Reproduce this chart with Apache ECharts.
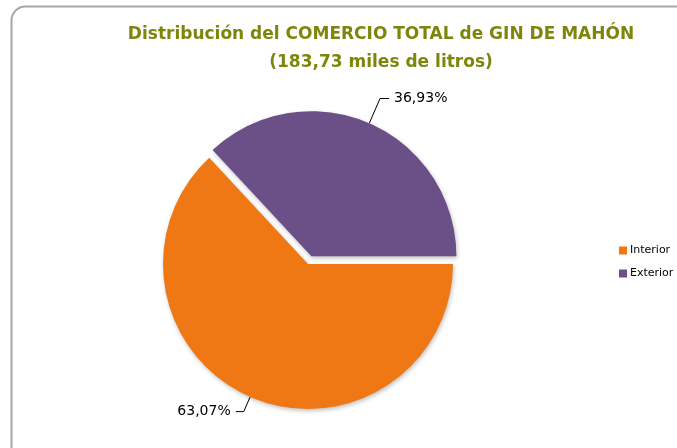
<!DOCTYPE html>
<html>
<head>
<meta charset="utf-8">
<script src="https://cdn.jsdelivr.net/npm/echarts@6/dist/echarts.min.js"></script>
<style>
  html, body { margin: 0; padding: 0; background: #fff; }
  #chart { width: 677px; height: 448px; }
</style>
</head>
<body>
<div id="chart"></div>
<script>
// datos (miles de litros)
const categories = ['Interior', 'Exterior']
const values = [115.88, 67.85]
const colors = ['#F07814', '#6A5087']
const titleLines = ['Distribución del COMERCIO TOTAL de GIN DE MAHÓN', '(183,73 miles de litros)']

const total = values.reduce((a, b) => a + b, 0)
const fmtPct = (v) => (v / total * 100).toFixed(2).replace('.', ',') + '%'

// largo de las líneas de etiqueta por porción
const lineLen = [[16, 8], [27, 9]]

const chart = echarts.init(document.getElementById('chart'))

const option = {
  backgroundColor: '#fff',
  animation: false,
  title: {
    text: titleLines.join('\n'),
    left: 376,
    top: 16,
    textAlign: 'center',
    textStyle: {
      color: '#7C860A',
      fontFamily: 'DejaVu Sans',
      fontWeight: 'bold',
      fontSize: 17,
      lineHeight: 28
    }
  },
  legend: {
    orient: 'vertical',
    left: 619,
    top: 245,
    padding: 0,
    itemWidth: 8,
    itemHeight: 8,
    itemGap: 12,
    icon: 'rect',
    selectedMode: false,
    data: categories,
    textStyle: {
      color: '#000',
      fontFamily: 'DejaVu Sans',
      fontSize: 11,
      padding: [0, 0, 0, -2]
    }
  },
  graphic: [
    {
      type: 'rect',
      shape: { x: 11.5, y: 6.5, width: 690, height: 460, r: 14 },
      style: { fill: 'none', stroke: '#A6A6A6', lineWidth: 2 },
      silent: true
    }
  ],
  series: [
    {
      type: 'pie',
      center: [308, 264],
      radius: 145,
      startAngle: 0,
      clockwise: true,
      selectedMode: 'single',
      selectedOffset: 8.5,
      emphasis: { disabled: true },
      itemStyle: {
        shadowBlur: 4,
        shadowOffsetX: 1,
        shadowOffsetY: 2,
        shadowColor: 'rgba(0,0,0,0.25)'
      },
      label: {
        show: true,
        position: 'outside',
        formatter: (p) => fmtPct(p.value),
        color: '#000',
        fontFamily: 'DejaVu Sans',
        fontSize: 14
      },
      labelLine: {
        show: true,
        smooth: false,
        lineStyle: { color: '#000', width: 1 }
      },
      data: categories.map((name, i) => ({
        name: name,
        value: values[i],
        selected: i === 1,
        itemStyle: { color: colors[i] },
        labelLine: { length: lineLen[i][0], length2: lineLen[i][1] }
      }))
    }
  ]
}

chart.setOption(option)
</script>
</body>
</html>
